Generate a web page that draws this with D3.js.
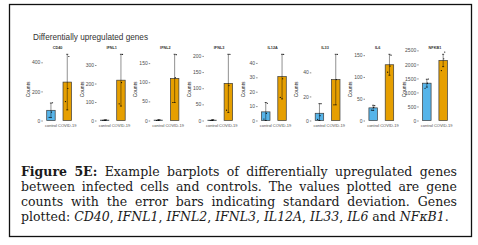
<!DOCTYPE html>
<html>
<head>
<meta charset="utf-8">
<script src="https://cdn.jsdelivr.net/npm/d3@7"></script>
<style>
  body { margin: 0; background: #fff; }
  svg { display: block; }
</style>
</head>
<body>
<svg id="chart" width="478" height="245"></svg>
<script>
// Gene panels
const genes = ['CD40', 'IFNL1', 'IFNL2', 'IFNL3', 'IL12A', 'IL33', 'IL6', 'NFKB1'];
const conditions = ['control', 'COVID-19'];

// Mean counts and standard deviation per gene
const controlMean = [70, 2, 1, 1, 6, 6, 29, 1330];
const controlSd = [50, 1, 1, 1, 6.5, 8, 6, 140];
const covidMean = [264, 218, 110, 115, 30.5, 34, 128, 2140];
const covidSd = [191, 140, 63, 90, 15.5, 21, 24, 220];

// Replicate points
const controlPoints = [[22, 58, 122], [1, 2, 3], [0, 1, 2], [0, 1, 2], [1, 5, 12], [1, 4, 14], [24, 30, 34], [1150, 1330, 1480]];
const covidPoints = [[130, 220, 440], [90, 205, 358], [47, 112, 172], [32, 108, 205], [16, 29, 46], [13, 34, 55], [111, 125, 150], [1780, 2200, 2440]];

// Y tick labels per panel
const yTicks = [
  [0, 200, 400],
  [0, 100, 200, 300],
  [0, 50, 100, 150],
  [0, 50, 100, 150, 200],
  [0, 10, 20, 30, 40],
  [0, 20, 40],
  [0, 50, 100, 150],
  [0, 500, 1000, 1500, 2000, 2500]
];

const colors = { 'control': '#56B4E9', 'COVID-19': '#E69F00' };

const svg = d3.select('#chart');
const sans = 'Liberation Sans, Arial, sans-serif';

// Frame
svg.append('rect')
  .attr('x', 9.5).attr('y', 4.5)
  .attr('width', 462).attr('height', 232)
  .attr('fill', 'none')
  .attr('stroke', '#111')
  .attr('stroke-width', 1.3);

// Title
svg.append('text')
  .attr('x', 33).attr('y', 40)
  .attr('font-family', sans)
  .attr('font-size', 8.2)
  .attr('fill', '#333')
  .text('Differentially upregulated genes');

const baseY = 120.5;
const topY = 54.3;
const outer = d3.scaleBand().domain(genes).range([42.8, 472.4]);

genes.forEach((gene, i) => {
  const x0 = outer(gene);
  const x = d3.scaleBand()
    .domain(conditions)
    .range([x0, x0 + 32.6])
    .paddingInner(0.48)
    .paddingOuter(0.24);

  const ymax = Math.max(controlMean[i] + controlSd[i], covidMean[i] + covidSd[i]);
  const y = d3.scaleLinear().domain([0, ymax]).range([baseY, topY]);

  const g = svg.append('g');

  // Axis
  const axis = d3.axisLeft(y)
    .tickValues(yTicks[i])
    .tickSize(1.5)
    .tickPadding(1)
    .tickFormat(d3.format('d'));

  const ga = g.append('g')
    .attr('transform', `translate(${x0},0)`)
    .call(axis);
  ga.select('.domain').remove();
  ga.selectAll('line').attr('stroke', '#444').attr('stroke-width', 0.6);
  ga.selectAll('text')
    .attr('font-family', sans)
    .attr('font-size', 5)
    .attr('fill', '#4d4d4d');

  // Counts label
  g.append('text')
    .attr('transform', `translate(${x0 - 13},${(baseY + topY) / 2 + 2}) rotate(-90)`)
    .attr('text-anchor', 'middle')
    .attr('font-family', sans)
    .attr('font-size', 5)
    .attr('fill', '#222')
    .text('Counts');

  // Gene label
  g.append('text')
    .attr('x', x('control') + 6)
    .attr('y', 49)
    .attr('font-family', sans)
    .attr('font-size', 3.8)
    .attr('font-weight', 'bold')
    .attr('fill', '#333')
    .text(gene);

  const rows = [
    { cond: 'control', mean: controlMean[i], sd: controlSd[i], pts: controlPoints[i] },
    { cond: 'COVID-19', mean: covidMean[i], sd: covidSd[i], pts: covidPoints[i] }
  ];

  // Bars
  g.selectAll('rect.bar')
    .data(rows)
    .join('rect')
    .attr('class', 'bar')
    .attr('x', d => x(d.cond))
    .attr('y', d => y(d.mean))
    .attr('width', x.bandwidth())
    .attr('height', d => baseY - y(d.mean))
    .attr('fill', d => colors[d.cond])
    .attr('stroke', '#3a3a3a')
    .attr('stroke-width', 0.7);

  // Error bars (mean +/- sd)
  const cx = d => x(d.cond) + x.bandwidth() / 2;
  g.selectAll('line.err')
    .data(rows)
    .join('line')
    .attr('class', 'err')
    .attr('x1', cx).attr('x2', cx)
    .attr('y1', d => y(Math.max(0, d.mean - d.sd)))
    .attr('y2', d => y(d.mean + d.sd))
    .attr('stroke', '#000')
    .attr('stroke-opacity', 0.55)
    .attr('stroke-width', 0.8);

  g.selectAll('line.cap')
    .data(rows.flatMap(d => [
      { cond: d.cond, v: Math.max(0, d.mean - d.sd) },
      { cond: d.cond, v: d.mean + d.sd }
    ]))
    .join('line')
    .attr('class', 'cap')
    .attr('x1', d => x(d.cond) + x.bandwidth() / 2 - 1)
    .attr('x2', d => x(d.cond) + x.bandwidth() / 2 + 1)
    .attr('y1', d => y(d.v)).attr('y2', d => y(d.v))
    .attr('stroke', '#000')
    .attr('stroke-width', 0.7);

  // Replicate points
  const jitter = [-1.8, 0.6, 1.6];
  g.selectAll('circle.pt')
    .data(rows.flatMap(d => d.pts.map((v, k) => ({ cond: d.cond, v, k }))))
    .join('circle')
    .attr('class', 'pt')
    .attr('cx', d => x(d.cond) + x.bandwidth() / 2 + jitter[d.k])
    .attr('cy', d => y(d.v))
    .attr('r', 0.6)
    .attr('fill', '#000');

  // Category labels
  g.selectAll('text.cat')
    .data(conditions)
    .join('text')
    .attr('class', 'cat')
    .attr('x', d => x(d) + x.bandwidth() / 2)
    .attr('y', 127)
    .attr('text-anchor', 'middle')
    .attr('font-family', sans)
    .attr('font-size', 4)
    .attr('fill', '#4d4d4d')
    .text(d => d);
});

// Caption, justified
const captionLines = [
  [{ t: 'Figure 5E:', b: true }, { t: ' Example barplots of differentially upregulated genes' }],
  [{ t: 'between infected cells and controls. The values plotted are gene' }],
  [{ t: 'counts with the error bars indicating standard deviation. Genes' }],
  [{ t: 'plotted: ' }, { t: 'CD40', i: true }, { t: ', ' }, { t: 'IFNL1', i: true }, { t: ', ' },
   { t: 'IFNL2', i: true }, { t: ', ' }, { t: 'IFNL3', i: true }, { t: ', ' }, { t: 'IL12A', i: true },
   { t: ', ' }, { t: 'IL33', i: true }, { t: ', ' }, { t: 'IL6', i: true }, { t: ' and ' },
   { t: 'NFκB1', i: true }, { t: '.' }]
];
const capLeft = 21, capRight = 457;
const capBase = [176, 191, 206, 221];
const serif = 'DejaVu Serif, serif';

// split segments into words keeping style
function toWords(line) {
  const words = [];
  let cur = [];
  line.forEach(seg => {
    const parts = seg.t.split(' ');
    parts.forEach((p, k) => {
      if (k > 0) { if (cur.length) words.push(cur); cur = []; }
      if (p) cur.push({ t: p, b: seg.b, i: seg.i });
    });
  });
  if (cur.length) words.push(cur);
  return words;
}

const measure = svg.append('text').attr('font-family', serif).attr('x', -1000).attr('y', -1000);
function segWidth(s, size) {
  measure.attr('font-size', size)
    .attr('font-weight', s.b ? 'bold' : 'normal')
    .attr('font-style', s.i ? 'italic' : 'normal')
    .text(s.t);
  return measure.node().getComputedTextLength();
}
function wordWidth(w, size) { return d3.sum(w, s => segWidth(s, size)); }

// pick font size so the last line fills its natural width
const lastWords = toWords(captionLines[3]);
const probe = 12;
const spaceW = segWidth({ t: 'a a' }, probe) - segWidth({ t: 'aa' }, probe);
const natural = d3.sum(lastWords, w => wordWidth(w, probe)) + spaceW * (lastWords.length - 1);
const fontSize = Math.min(12.5, probe * 431 / natural);
const spaceFinal = spaceW * fontSize / probe;

captionLines.forEach((line, li) => {
  const words = toWords(line);
  const widths = words.map(w => wordWidth(w, fontSize));
  const total = d3.sum(widths);
  const gap = li < captionLines.length - 1
    ? (capRight - capLeft - total) / (words.length - 1)
    : spaceFinal;
  let xpos = capLeft;
  const text = svg.append('text')
    .attr('y', capBase[li])
    .attr('font-family', serif)
    .attr('font-size', fontSize)
    .attr('fill', '#1a1a1a');
  words.forEach((w, wi) => {
    let sx = xpos;
    w.forEach(s => {
      text.append('tspan')
        .attr('x', sx)
        .attr('font-weight', s.b ? 'bold' : 'normal')
        .attr('font-style', s.i ? 'italic' : 'normal')
        .text(s.t);
      sx += segWidth(s, fontSize);
    });
    xpos += widths[wi] + gap;
  });
});
measure.remove();
</script>
</body>
</html>
